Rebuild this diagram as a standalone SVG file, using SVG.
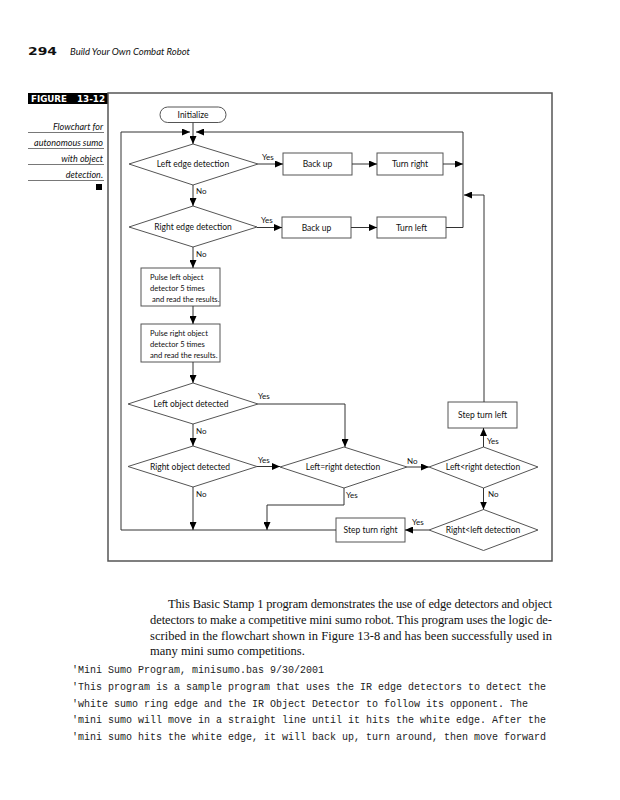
<svg xmlns="http://www.w3.org/2000/svg" width="620" height="800" viewBox="0 0 620 800">
<defs>
<marker id="ah" markerUnits="userSpaceOnUse" markerWidth="8" markerHeight="7" refX="8" refY="3.5" orient="auto">
<path d="M0,0 L8,3.5 L0,7 z" fill="#000"/>
</marker>
<style>
.nd{fill:#fff;stroke:#555;stroke-width:1}
.t{font-family:Lato,"Liberation Sans",sans-serif;font-size:8.5px;fill:#111;text-anchor:middle}
.tl{font-family:Lato,"Liberation Sans",sans-serif;font-size:7.6px;fill:#111}
.lb{font-family:Lato,"Liberation Sans",sans-serif;font-size:8px;fill:#111}
.cn{fill:none;stroke:#333;stroke-width:1}
.cap{font-family:Lato,"Liberation Sans",sans-serif;font-style:italic;font-size:9px;fill:#111;text-anchor:end}
.par{font-family:"Liberation Serif",serif;font-size:12.5px;fill:#111}
.code{font-family:"Liberation Mono",monospace;font-size:10px;fill:#222}
</style>
</defs>
<rect width="620" height="800" fill="#fff"/>
<!-- header -->
<text x="28" y="55" font-family="DejaVu Sans,sans-serif" font-weight="bold" font-size="10" textLength="29" lengthAdjust="spacingAndGlyphs" fill="#111">294</text>
<text x="70" y="54.5" font-family="Lato,'Liberation Sans',sans-serif" font-style="italic" font-size="9.5" fill="#111">Build Your Own Combat Robot</text>
<!-- figure label and caption -->
<g id="figlabel">
<rect x="28" y="93" width="80" height="11" fill="#000"/>
<text x="31" y="102" font-family="DejaVu Sans,sans-serif" font-weight="bold" font-size="8" fill="#fff" textLength="36" lengthAdjust="spacingAndGlyphs">FIGURE</text>
<text x="77" y="102" font-family="DejaVu Sans,sans-serif" font-weight="bold" font-size="8" fill="#fff" textLength="28" lengthAdjust="spacingAndGlyphs">13-12</text>
<text class="cap" x="103" y="130">Flowchart for</text>
<text class="cap" x="103" y="146">autonomous sumo</text>
<text class="cap" x="103" y="162">with object</text>
<text class="cap" x="103" y="178">detection.</text>
<g stroke="#555" stroke-width="0.8">
<line x1="28" y1="132.5" x2="104" y2="132.5"/>
<line x1="28" y1="148.5" x2="104" y2="148.5"/>
<line x1="28" y1="164.5" x2="104" y2="164.5"/>
<line x1="28" y1="180.5" x2="104" y2="180.5"/>
</g>
<rect x="96" y="184" width="6" height="6" fill="#000"/>
</g>
<!-- frame -->
<rect x="108" y="93" width="444" height="468" fill="none" stroke="#555" stroke-width="1.5"/>
<!-- nodes -->
<g id="initialize"><rect class="nd" x="160" y="107" width="66" height="15.5" rx="7.7"/><text class="t" x="193" y="118">Initialize</text></g>
<g id="d-left-edge"><polygon class="nd" points="193,144 258,164 193,185 129,164"/><text class="t" x="193" y="167">Left edge detection</text></g>
<g id="backup1"><rect class="nd" x="283" y="153" width="69" height="22"/><text class="t" x="317.5" y="167">Back up</text></g>
<g id="turnright"><rect class="nd" x="377" y="153" width="66" height="22"/><text class="t" x="410" y="167">Turn right</text></g>
<g id="d-right-edge"><polygon class="nd" points="193,206 257,227 193,247 129,227"/><text class="t" x="193" y="230">Right edge detection</text></g>
<g id="backup2"><rect class="nd" x="282" y="217" width="69" height="21"/><text class="t" x="316.5" y="230.5">Back up</text></g>
<g id="turnleft"><rect class="nd" x="377" y="217" width="69" height="21"/><text class="t" x="411.5" y="230.5">Turn left</text></g>
<g id="pulseleft"><rect class="nd" x="141" y="268" width="79" height="38"/>
<text class="tl" x="150" y="280">Pulse left object</text><text class="tl" x="150" y="291">detector 5 times</text><text class="tl" x="152" y="302">and read the results.</text></g>
<g id="pulseright"><rect class="nd" x="141" y="324" width="79" height="38"/>
<text class="tl" x="150" y="336">Pulse right object</text><text class="tl" x="150" y="347">detector 5 times</text><text class="tl" x="150" y="358">and read the results.</text></g>
<g id="d-left-obj"><polygon class="nd" points="193,383 258,404 193,424 128,404"/><text class="t" x="191" y="407">Left object detected</text></g>
<g id="d-right-obj"><polygon class="nd" points="193,446 257,466.5 193,487 128,466.5"/><text class="t" x="190" y="469.5">Right object detected</text></g>
<g id="d-eq"><polygon class="nd" points="344,447 407,467 344,488 280,467"/><text class="t" x="343" y="470">Left=right detection</text></g>
<g id="d-lt"><polygon class="nd" points="483.5,447 538,467 483.5,488 429,467"/><text class="t" x="483" y="470">Left&lt;right detection</text></g>
<g id="stepleft"><rect class="nd" x="448" y="402" width="69" height="26"/><text class="t" x="482.5" y="418">Step turn left</text></g>
<g id="d-rl"><polygon class="nd" points="483.5,509.5 538,530 483.5,550.5 429,530"/><text class="t" x="483" y="533">Right&lt;left detection</text></g>
<g id="stepright"><rect class="nd" x="336" y="518" width="69" height="24"/><text class="t" x="370.5" y="533">Step turn right</text></g>
<!-- connectors -->
<g id="connectors">
<line class="cn" x1="193" y1="122.5" x2="193" y2="144" marker-end="url(#ah)"/>
<polyline class="cn" points="336,530 121,530 121,132 190,132" marker-end="url(#ah)"/>
<polyline class="cn" points="446,227.5 463,227.5 463,132 196,132" marker-end="url(#ah)"/>
<line class="cn" x1="443" y1="164" x2="463" y2="164" marker-end="url(#ah)"/>
<polyline class="cn" points="484,402 484,195 464,195" marker-end="url(#ah)"/>
<line class="cn" x1="258" y1="164" x2="283" y2="164" marker-end="url(#ah)"/>
<line class="cn" x1="352" y1="164" x2="377" y2="164" marker-end="url(#ah)"/>
<line class="cn" x1="193" y1="185" x2="193" y2="206" marker-end="url(#ah)"/>
<line class="cn" x1="257" y1="227.5" x2="282" y2="227.5" marker-end="url(#ah)"/>
<line class="cn" x1="351" y1="227.5" x2="377" y2="227.5" marker-end="url(#ah)"/>
<line class="cn" x1="193" y1="247" x2="193" y2="268" marker-end="url(#ah)"/>
<line class="cn" x1="193" y1="306" x2="193" y2="324" marker-end="url(#ah)"/>
<line class="cn" x1="193" y1="362" x2="193" y2="383" marker-end="url(#ah)"/>
<polyline class="cn" points="258,404 345,404 345,447" marker-end="url(#ah)"/>
<line class="cn" x1="193" y1="424" x2="193" y2="446" marker-end="url(#ah)"/>
<line class="cn" x1="257" y1="466.5" x2="280" y2="466.5" marker-end="url(#ah)"/>
<line class="cn" x1="193" y1="487" x2="193" y2="530" marker-end="url(#ah)"/>
<line class="cn" x1="407" y1="467" x2="429" y2="467" marker-end="url(#ah)"/>
<polyline class="cn" points="344,488 344,505 267,505 267,530" marker-end="url(#ah)"/>
<line class="cn" x1="483.5" y1="447" x2="483.5" y2="428" marker-end="url(#ah)"/>
<line class="cn" x1="483.5" y1="488" x2="483.5" y2="509.5" marker-end="url(#ah)"/>
<line class="cn" x1="429" y1="530" x2="405" y2="530" marker-end="url(#ah)"/>
<text class="lb" x="262" y="160">Yes</text>
<text class="lb" x="196" y="194">No</text>
<text class="lb" x="261" y="223">Yes</text>
<text class="lb" x="196" y="257">No</text>
<text class="lb" x="258" y="399">Yes</text>
<text class="lb" x="196" y="434">No</text>
<text class="lb" x="258" y="463">Yes</text>
<text class="lb" x="196" y="497">No</text>
<text class="lb" x="346" y="498">Yes</text>
<text class="lb" x="407" y="464">No</text>
<text class="lb" x="487" y="444">Yes</text>
<text class="lb" x="488" y="497">No</text>
<text class="lb" x="412" y="525">Yes</text>
</g>
<!-- paragraph -->
<text class="par" x="168" y="608" textLength="384" lengthAdjust="spacing">This Basic Stamp 1 program demonstrates the use of edge detectors and object</text>
<text class="par" x="150" y="624" textLength="402" lengthAdjust="spacing">detectors to make a competitive mini sumo robot. This program uses the logic de-</text>
<text class="par" x="150" y="640" textLength="402" lengthAdjust="spacing">scribed in the flowchart shown in Figure 13-8 and has been successfully used in</text>
<text class="par" x="150" y="655">many mini sumo competitions.</text>
<!-- code -->
<text class="code" x="72" y="673">'Mini Sumo Program, minisumo.bas 9/30/2001</text>
<text class="code" x="72" y="690">'This program is a sample program that uses the IR edge detectors to detect the</text>
<text class="code" x="72" y="707">'white sumo ring edge and the IR Object Detector to follow its opponent. The</text>
<text class="code" x="72" y="723">'mini sumo will move in a straight line until it hits the white edge. After the</text>
<text class="code" x="72" y="740">'mini sumo hits the white edge, it will back up, turn around, then move forward</text>
</svg>
